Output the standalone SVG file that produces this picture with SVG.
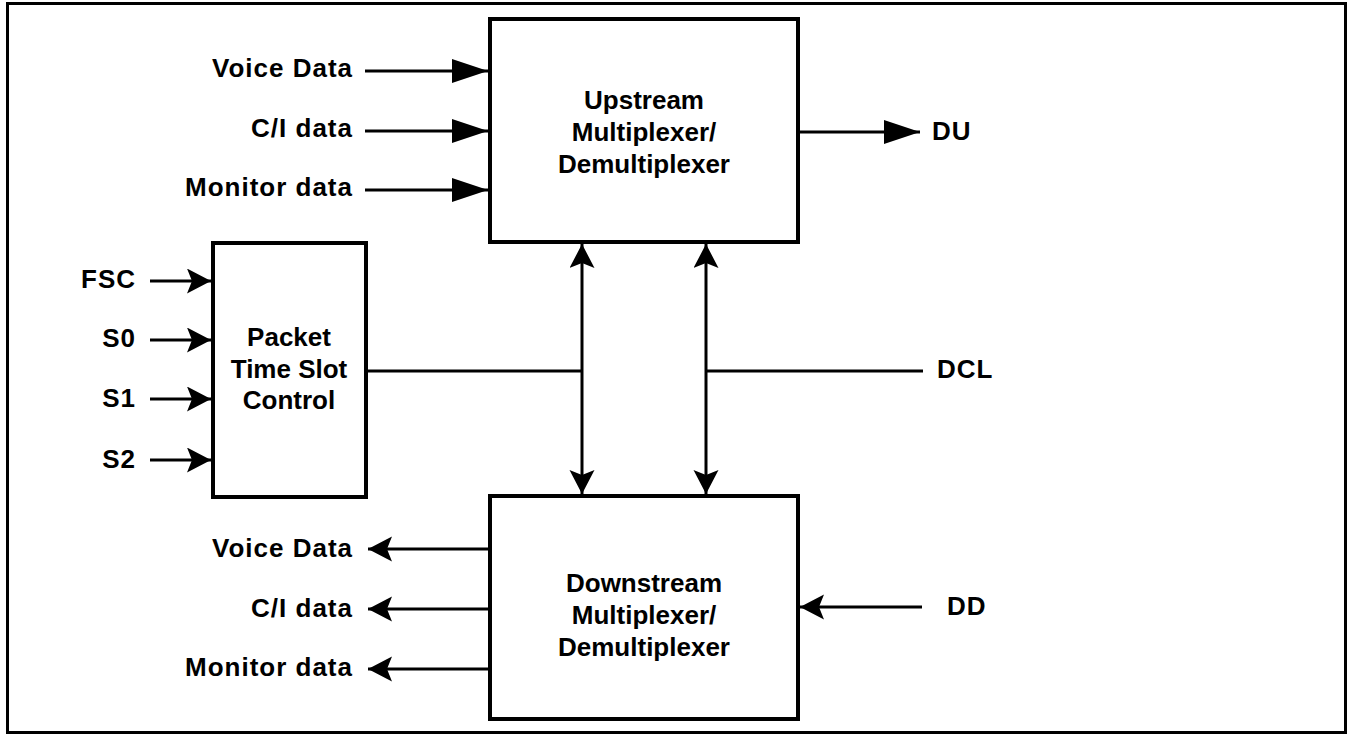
<svg xmlns="http://www.w3.org/2000/svg" width="1348" height="738" viewBox="0 0 1348 738">
<style>
.box{fill:#fff;stroke:#000;stroke-width:4}
.ln{fill:none;stroke:#000;stroke-width:3}
.t{font-family:"Liberation Sans",Arial,sans-serif;font-weight:bold;font-size:26px;fill:#000}
.r{text-anchor:end;letter-spacing:1px}
.l{letter-spacing:1px}
.m{text-anchor:middle}
</style>
<defs>
<marker id="big" markerUnits="userSpaceOnUse" markerWidth="40" markerHeight="30" refX="36" refY="12" orient="auto-start-reverse" viewBox="0 0 40 30">
<path d="M0,0 L36,12 L0,24 Z" fill="#000"/>
</marker>
<marker id="sm" markerUnits="userSpaceOnUse" markerWidth="30" markerHeight="30" refX="24" refY="12.5" orient="auto-start-reverse" viewBox="0 0 30 30">
<path d="M0,0 L24,12.5 L0,25 L5,12.5 Z" fill="#000"/>
</marker>
</defs>
<rect x="7.5" y="3.5" width="1338" height="729" fill="#fff" stroke="#000" stroke-width="3"/>
<g id="connectors">
<line class="ln" x1="365" y1="71" x2="488" y2="71" marker-end="url(#big)"/>
<line class="ln" x1="365" y1="131" x2="488" y2="131" marker-end="url(#big)"/>
<line class="ln" x1="365" y1="190" x2="488" y2="190" marker-end="url(#big)"/>
<line class="ln" x1="798" y1="132" x2="920" y2="132" marker-end="url(#big)"/>
<line class="ln" x1="150" y1="281" x2="211" y2="281" marker-end="url(#sm)"/>
<line class="ln" x1="150" y1="340" x2="211" y2="340" marker-end="url(#sm)"/>
<line class="ln" x1="150" y1="399" x2="211" y2="399" marker-end="url(#sm)"/>
<line class="ln" x1="150" y1="460" x2="211" y2="460" marker-end="url(#sm)"/>
<line class="ln" x1="366" y1="371" x2="582" y2="371"/>
<line class="ln" x1="706" y1="371" x2="923" y2="371"/>
<line class="ln" x1="582" y1="244" x2="582" y2="494" marker-start="url(#sm)" marker-end="url(#sm)"/>
<line class="ln" x1="706" y1="244" x2="706" y2="494" marker-start="url(#sm)" marker-end="url(#sm)"/>
<line class="ln" x1="490" y1="549" x2="368" y2="549" marker-end="url(#sm)"/>
<line class="ln" x1="490" y1="609" x2="368" y2="609" marker-end="url(#sm)"/>
<line class="ln" x1="490" y1="669" x2="368" y2="669" marker-end="url(#sm)"/>
<line class="ln" x1="922" y1="607" x2="800" y2="607" marker-end="url(#sm)"/>
</g>
<g id="upstream">
<rect class="box" x="490" y="19" width="308" height="223"/>
<text class="t m" x="644" y="109">Upstream</text>
<text class="t m" x="644" y="141">Multiplexer/</text>
<text class="t m" x="644" y="173">Demultiplexer</text>
</g>
<g id="downstream">
<rect class="box" x="490" y="496" width="308" height="223"/>
<text class="t m" x="644" y="592">Downstream</text>
<text class="t m" x="644" y="624">Multiplexer/</text>
<text class="t m" x="644" y="656">Demultiplexer</text>
</g>
<g id="packet">
<rect class="box" x="213" y="243" width="153" height="254"/>
<text class="t m" x="289" y="346">Packet</text>
<text class="t m" x="289" y="378">Time Slot</text>
<text class="t m" x="289" y="409">Control</text>
</g>
<g id="labels">
<text class="t r" x="353" y="77">Voice Data</text>
<text class="t r" x="353" y="137">C/I data</text>
<text class="t r" x="353" y="196">Monitor data</text>
<text class="t l" x="932" y="140">DU</text>
<text class="t r" x="136" y="288">FSC</text>
<text class="t r" x="136" y="347">S0</text>
<text class="t r" x="136" y="407">S1</text>
<text class="t r" x="136" y="468">S2</text>
<text class="t l" x="937" y="378">DCL</text>
<text class="t r" x="353" y="557">Voice Data</text>
<text class="t r" x="353" y="617">C/I data</text>
<text class="t r" x="353" y="676">Monitor data</text>
<text class="t l" x="947" y="615">DD</text>
</g>
</svg>
